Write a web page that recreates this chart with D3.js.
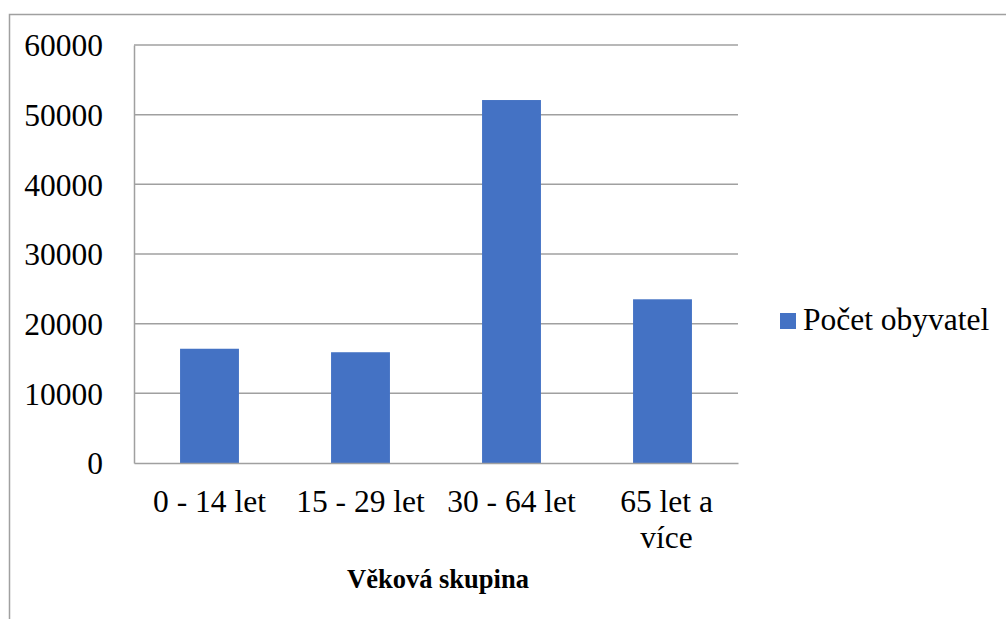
<!DOCTYPE html>
<html>
<head>
<meta charset="utf-8">
<script src="https://cdnjs.cloudflare.com/ajax/libs/d3/7.8.5/d3.min.js"></script>
<style>
  body { margin: 0; background: #fff; }
  text { font-family: "Liberation Serif", "Times New Roman", serif; fill: #000; }
</style>
</head>
<body>
<div id="chart"></div>
<script>
// data
var categories = ["0 - 14 let", "15 - 29 let", "30 - 64 let", "65 let a více"];
var values = [16400, 15900, 52100, 23500];
var yTicks = [0, 10000, 20000, 30000, 40000, 50000, 60000];
var seriesName = "Počet obyvatel";
var xTitle = "Věková skupina";

var svgWidth = 1006;
var svgHeight = 619;

var margin = { top: 45, right: 268, bottom: 156, left: 134 };
var chartWidth = svgWidth - margin.left - margin.right;
var chartHeight = svgHeight - margin.top - margin.bottom;

var svg = d3.select("#chart")
  .append("svg")
  .attr("width", svgWidth)
  .attr("height", svgHeight);

// outer frame (cut off at right/bottom like the source)
svg.append("rect")
  .attr("x", 9.5)
  .attr("y", 14.5)
  .attr("width", 1200)
  .attr("height", 800)
  .attr("fill", "none")
  .attr("stroke", "#a0a0a0")
  .attr("stroke-width", 1.5);

var chartGroup = svg.append("g")
  .attr("transform", `translate(${margin.left}, ${margin.top})`);

var xScale = d3.scaleBand()
  .domain(categories)
  .range([0, chartWidth])
  .padding(0);

var yScale = d3.scaleLinear()
  .domain([0, 60000])
  .range([chartHeight, 0]);

// gridlines
chartGroup.selectAll(".grid")
  .data(yTicks.filter(d => d > 0))
  .enter()
  .append("line")
  .attr("x1", 0)
  .attr("x2", chartWidth)
  .attr("y1", d => yScale(d))
  .attr("y2", d => yScale(d))
  .attr("stroke", "#a0a0a0")
  .attr("stroke-width", 1.5);

// y axis
var leftAxis = d3.axisLeft(yScale).tickValues(yTicks).tickSize(0).tickPadding(31).tickFormat(d3.format("d"));
var yAxisG = chartGroup.append("g").call(leftAxis);
yAxisG.attr("font-family", null);
yAxisG.select(".domain").attr("stroke", "#a0a0a0").attr("stroke-width", 1.5);
yAxisG.selectAll("text")
  .style("font-family", "'Liberation Serif', 'Times New Roman', serif")
  .style("font-size", "31.5px")
  .attr("fill", "#000")
  .attr("dy", "0.34em");

// bars
var barW = xScale.bandwidth() * 0.39;
chartGroup.selectAll(".bar")
  .data(values)
  .enter()
  .append("rect")
  .attr("x", (d, i) => xScale(categories[i]) + (xScale.bandwidth() - barW) / 2)
  .attr("y", d => yScale(d))
  .attr("width", barW)
  .attr("height", d => chartHeight - yScale(d))
  .attr("fill", "#4472c4");

// x axis
var bottomAxis = d3.axisBottom(xScale).tickSize(0).tickFormat("");
var xAxisG = chartGroup.append("g")
  .attr("transform", `translate(0, ${chartHeight})`)
  .call(bottomAxis);
xAxisG.select(".domain").attr("stroke", "#a0a0a0").attr("stroke-width", 1.5);

// category labels (wrapped like the source)
var labelLines = [["0 - 14 let"], ["15 - 29 let"], ["30 - 64 let"], ["65 let a", "více"]];
categories.forEach(function(c, i) {
  var t = chartGroup.append("text")
    .attr("text-anchor", "middle")
    .style("font-size", "31.5px");
  labelLines[i].forEach(function(line, j) {
    t.append("tspan")
      .attr("x", xScale(c) + xScale.bandwidth() / 2 + (i === 3 ? 4 : 0))
      .attr("y", chartHeight + 49 + j * 36)
      .text(line);
  });
});

// axis title
chartGroup.append("text")
  .attr("x", chartWidth / 2 + 2)
  .attr("y", chartHeight + 125)
  .attr("text-anchor", "middle")
  .style("font-size", "26.5px")
  .style("font-weight", "bold")
  .text(xTitle);

// legend
var legend = svg.append("g").attr("transform", "translate(780, 313)");
legend.append("rect")
  .attr("width", 16)
  .attr("height", 16)
  .attr("fill", "#4472c4");
legend.append("text")
  .attr("x", 23)
  .attr("y", 17)
  .style("font-size", "31.5px")
  .text(seriesName);
</script>
</body>
</html>
